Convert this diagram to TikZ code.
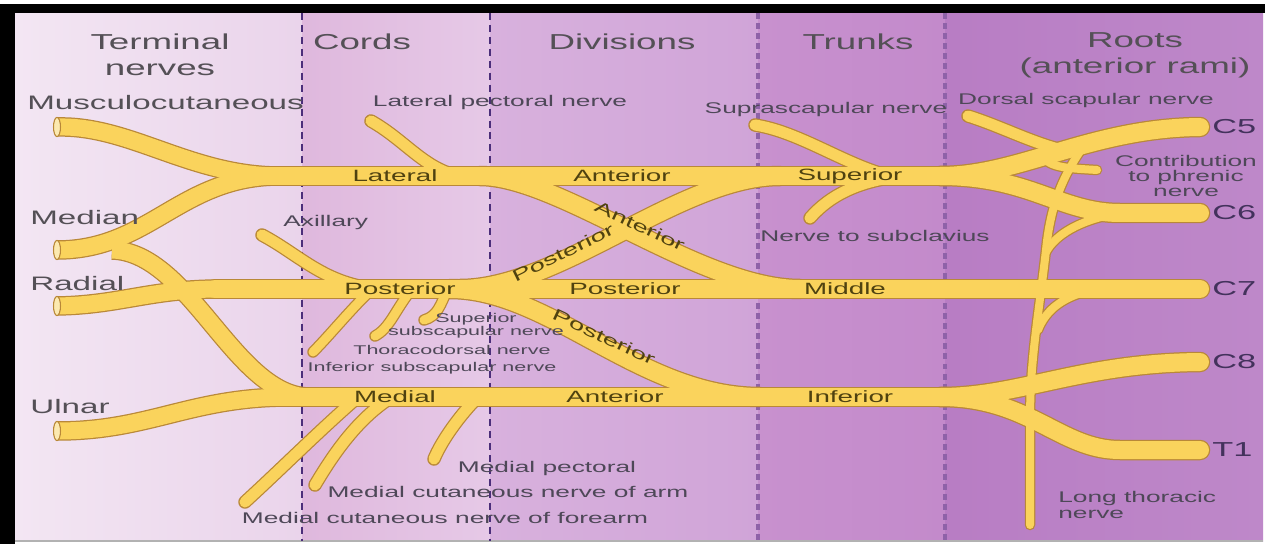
\documentclass[tikz,border=0pt]{standalone}
\usepackage{fontspec}
\setmainfont{Liberation Sans}[FakeStretch=1.7]
\usetikzlibrary{positioning}

\definecolor{termL}{HTML}{F3E6F3}
\definecolor{termR}{HTML}{EAD4EB}
\definecolor{cordL}{HTML}{DFB8DD}
\definecolor{cordR}{HTML}{E6C9E7}
\definecolor{divL}{HTML}{D8B1DD}
\definecolor{divR}{HTML}{D0A4D8}
\definecolor{trunkL}{HTML}{C891CE}
\definecolor{trunkR}{HTML}{C38ACB}
\definecolor{rootL}{HTML}{B87DC4}
\definecolor{rootR}{HTML}{BE88C9}
\definecolor{nerveyellow}{HTML}{FAD35C}
\definecolor{nerveedge}{HTML}{B98838}
\definecolor{nervecut}{HTML}{FCE9B0}
\definecolor{headgray}{HTML}{545056}
\definecolor{labelgray}{HTML}{4E4858}
\definecolor{bandtext}{HTML}{4F4210}
\definecolor{rootpurple}{HTML}{43325C}
\definecolor{dashdark}{HTML}{4B2E7A}
\definecolor{dashlight}{HTML}{8E62A8}

\tikzset{
  head/.style={font=\fontsize{12.3}{14.7}\selectfont, text=headgray, inner sep=0pt},
  termlabel/.style={font=\fontsize{11.1}{13}\selectfont, text=headgray, anchor=west, inner sep=0pt},
  smalllabel/.style={font=\fontsize{8.8}{8.8}\selectfont, text=labelgray, inner sep=0pt},
  tinylabel/.style={font=\fontsize{7.2}{7.4}\selectfont, text=labelgray, inner sep=0pt},
  bandlabel/.style={font=\fontsize{9.3}{11}\selectfont, text=bandtext, inner sep=0pt},
  rootlabel/.style={font=\fontsize{11.5}{13}\selectfont, text=rootpurple, anchor=west, inner sep=0pt},
  trunkband/.style={line width=0.36cm+\nbump},
  limbnerve/.style={line width=0.34cm+\nbump, line cap=butt},
  branchnerve/.style={line width=0.22cm+\nbump},
  twignerve/.style={line width=0.18cm+\nbump},
  thinnerve/.style={line width=0.16cm+\nbump},
}

\begin{document}
\begin{tikzpicture}[x=0.02cm, y=-0.02cm, line join=round]
\def\yup{176} \def\ymid{289} \def\ylow{397}
\def\xend{1200}
\useasboundingbox (0,0) rectangle (1268,544);
\fill[white] (0,0) rectangle (1268,544);
% columns
\shade[left color=termL, right color=termR] (15,13) rectangle (302,541);
\shade[left color=cordL, right color=cordR] (302,13) rectangle (490,541);
\shade[left color=divL, right color=divR] (490,13) rectangle (758,541);
\shade[left color=trunkL, right color=trunkR] (758,13) rectangle (945,541);
\shade[left color=rootL, right color=rootR] (945,13) rectangle (1263,541);
\fill[black] (0,4) rectangle (1265,13);
\fill[black] (0,4) rectangle (15,544);
\draw[gray!60, line width=0.6pt] (15,541) -- (1263,541);
\foreach \xs in {302,490}
  \draw[dashdark, line width=1.4pt, dash pattern=on 4pt off 2.8pt] (\xs,13) -- (\xs,541);
\foreach \xs in {758,945}
  \draw[dashlight, line width=2.2pt, dash pattern=on 3.4pt off 2.3pt] (\xs,13) -- (\xs,541);

% nerves: edge pass, then yellow pass
\foreach \ncol/\nbump in {nerveedge/0.05cm, nerveyellow/0cm}{
  \begin{scope}[color=\ncol, line cap=round]
    \draw[trunkband] (270,\yup) -- (975,\yup);
    \draw[trunkband] (940,\yup) .. controls (1020,\yup) and (1090,128) .. (\xend,127);
    \draw[trunkband] (940,\yup) .. controls (1030,\yup) and (1060,213) .. (1120,213) -- (\xend,213);
    \draw[trunkband] (215,\ymid) -- (\xend,\ymid);
    \draw[trunkband] (270,\ylow) -- (975,\ylow);
    \draw[trunkband] (940,\ylow) .. controls (1020,\ylow) and (1080,363) .. (\xend,362);
    \draw[trunkband] (940,\ylow) .. controls (1030,\ylow) and (1060,450) .. (1120,450) -- (\xend,450);
    % divisions
    \draw[trunkband] (480,\yup) .. controls (560,\yup) and (700,\ymid) .. (800,\ymid);
    \draw[trunkband] (460,\ymid) .. controls (560,\ymid) and (680,\yup) .. (780,\yup);
    \draw[trunkband] (450,\ymid) .. controls (550,\ymid) and (640,\ylow) .. (760,\ylow);
    % terminal nerves
    \draw[limbnerve] (57,127) .. controls (130,125) and (190,\yup) .. (280,\yup);
    \draw[limbnerve] (57,250) .. controls (150,250) and (180,\yup) .. (280,\yup);
    \draw[limbnerve] (112,250) .. controls (190,252) and (235,\ylow) .. (310,\ylow);
    \draw[limbnerve] (57,306) .. controls (120,305) and (150,\ymid) .. (220,\ymid);
    \draw[limbnerve] (57,431) .. controls (150,431) and (190,\ylow) .. (290,\ylow);
    % branches
    \draw[branchnerve] (371,121) .. controls (405,140) and (425,170) .. (460,\yup);
    \draw[branchnerve] (262,235) .. controls (300,255) and (325,285) .. (380,\ymid);
    \draw[twignerve] (372,\ymid) .. controls (350,310) and (330,335) .. (313,352);
    \draw[twignerve] (412,\ymid) .. controls (395,310) and (390,328) .. (375,336);
    \draw[twignerve] (448,\ymid) .. controls (440,305) and (438,316) .. (424,320);
    \draw[branchnerve] (358,\ylow) .. controls (320,430) and (280,470) .. (245,502);
    \draw[branchnerve] (392,\ylow) .. controls (355,420) and (330,460) .. (315,485);
    \draw[branchnerve] (478,\ylow) .. controls (460,415) and (442,440) .. (434,459);
    \draw[branchnerve] (755,125) .. controls (800,132) and (845,165) .. (890,\yup);
    \draw[branchnerve] (810,218) .. controls (830,195) and (860,180) .. (905,\yup);
    \draw[branchnerve] (968,116) .. controls (1000,126) and (1030,142) .. (1062,150);
    \draw[thinnerve] (1040,153) .. controls (1048,168) and (1065,168) .. (1097,170);
    \draw[thinnerve] (1083,147) .. controls (1060,180) and (1050,210) .. (1046,250)
      .. controls (1038,320) and (1030,360) .. (1030,420) -- (1030,525);
    \draw[thinnerve] (1115,214) .. controls (1080,220) and (1055,235) .. (1046,252);
    \draw[thinnerve] (1088,291) .. controls (1060,298) and (1045,312) .. (1038,330);
  \end{scope}
}
\foreach \ye in {127,250,306,431}
  \draw[nerveedge, fill=nervecut, line width=0.6pt] (57,\ye) ellipse [x radius=3.5, y radius=9.6];

% headers
\node[head, align=center] (hterm) at (160,55) {Terminal\\nerves};
\node[head] (hcords) at (362,42) {Cords};
\node[head] (hdiv) at (622,42) {Divisions};
\node[head] (htrunks) at (858,42) {Trunks};
\node[head, align=center] (hroots) at (1135,55) {Roots\\(anterior rami)};

% terminal nerves
\node[termlabel] (musc) at (27,103) {Musculocutaneous};
\node[termlabel] (median) at (30,218) {Median};
\node[termlabel] (radial) at (30,284) {Radial};
\node[termlabel] (ulnar) at (30,407) {Ulnar};

% bands
\node[bandlabel] (lat) at (395,\yup) {Lateral};
\node[bandlabel] (antup) at (622,\yup) {Anterior};
\node[bandlabel] (sup) at (850,\yup) {Superior};
\node[bandlabel] (postcord) at (400,\ymid) {Posterior};
\node[bandlabel] (postmid) at (625,\ymid) {Posterior};
\node[bandlabel] (mid) at (845,\ymid) {Middle};
\node[bandlabel] (med) at (395,\ylow) {Medial};
\node[bandlabel] (antlow) at (615,\ylow) {Anterior};
\node[bandlabel] (inf) at (850,\ylow) {Inferior};
\node[bandlabel, rotate=26] (postsup) at (563,253) {Posterior};
\node[bandlabel, rotate=-25] (antmid) at (640,226) {Anterior};
\node[bandlabel, rotate=-25] (postinf) at (604,337) {Posterior};

% branch labels
\node[smalllabel] (latpec) at (500,103) {Lateral pectoral nerve};
\node[smalllabel, anchor=west] (axil) at (283,223) {Axillary};
\node[smalllabel] (supra) at (826,110) {Suprascapular nerve};
\node[smalllabel] (subcl) at (875,236) {Nerve to subclavius};
\node[smalllabel] (dorsal) at (1086,101) {Dorsal scapular nerve};
\node[smalllabel, align=center] (phrenic) at (1186,176) {Contribution\\to phrenic\\nerve};
\node[smalllabel, align=left, anchor=west] (longth) at (1058,505) {Long thoracic\\nerve};
\node[tinylabel, align=center] (supsub) at (476,326) {Superior\\subscapular nerve};
\node[tinylabel] (thorac) at (452,350) {Thoracodorsal nerve};
\node[tinylabel] (infsub) at (432,368) {Inferior subscapular nerve};
\node[smalllabel] (medpec) at (547,468) {Medial pectoral};
\node[smalllabel] (medarm) at (508,492) {Medial cutaneous nerve of arm};
\node[smalllabel] (medfore) at (445,518) {Medial cutaneous nerve of forearm};

% roots
\node[rootlabel] (c5) at (1212,127) {C5};
\node[rootlabel] (c6) at (1212,213) {C6};
\node[rootlabel] (c7) at (1212,289) {C7};
\node[rootlabel] (c8) at (1212,362) {C8};
\node[rootlabel] (t1) at (1212,450) {T1};
\end{tikzpicture}
\end{document}
